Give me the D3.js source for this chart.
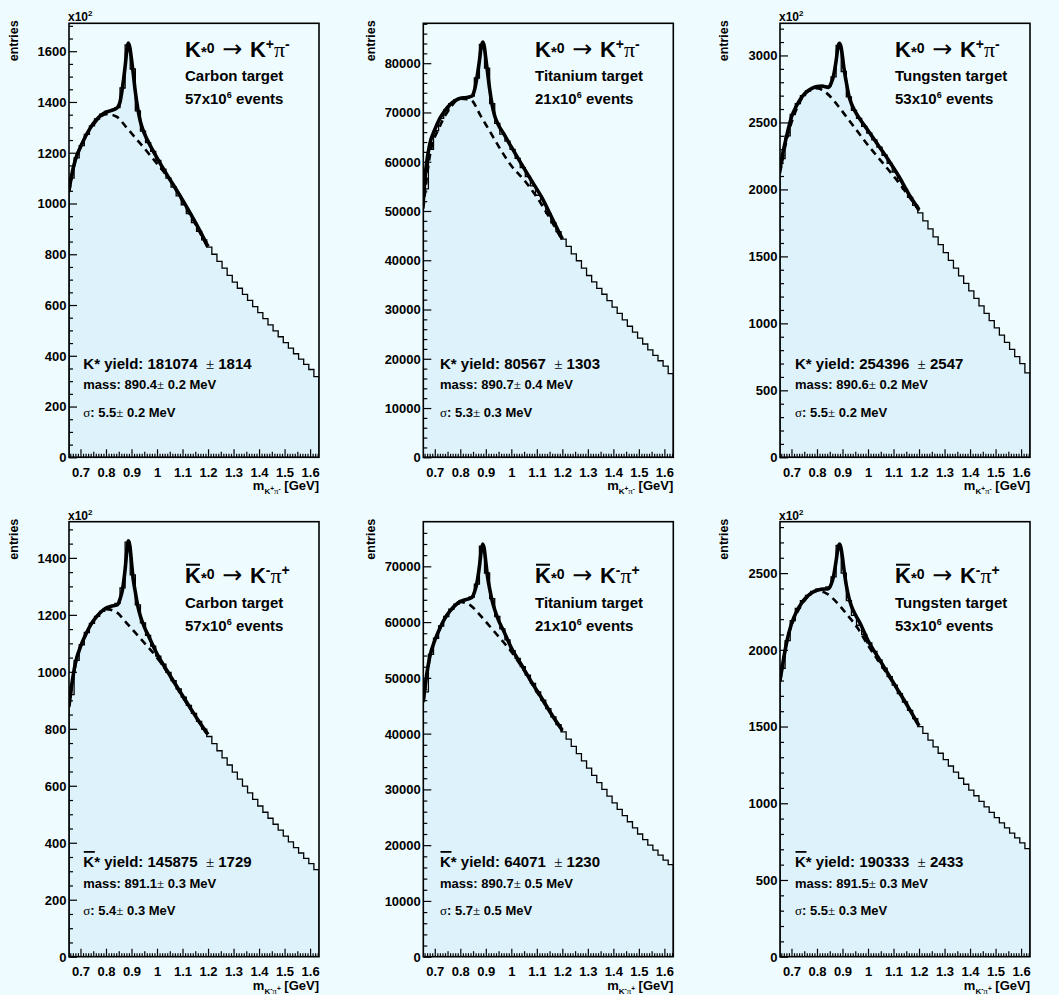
<!DOCTYPE html>
<html><head><meta charset="utf-8">
<script src="https://cdn.jsdelivr.net/npm/d3@7"></script>
<style>
html,body{margin:0;padding:0;background:#effcff;}
svg{display:block;}
text{font-family:"Liberation Sans",Arial,Helvetica,sans-serif;font-weight:bold;fill:#000;white-space:pre;}
.sym{font-family:"Liberation Serif","DejaVu Serif",serif;font-weight:normal;}
.arr{font-family:"DejaVu Sans",sans-serif;font-weight:normal;}
</style></head><body>
<svg id="c" width="1059" height="995"></svg>
<script>
// ---------- DATA ----------
const massBins = [0.665,0.685,0.705,0.725,0.745,0.765,0.785,0.805,0.825,0.845,0.865,0.885,0.905,0.925,0.945,0.965,0.985,1.005,1.025,1.045,1.065,1.085,1.105,1.125,1.145,1.165,1.185,1.205,1.225,1.245,1.265,1.285,1.305,1.325,1.345,1.365,1.385,1.405,1.425,1.445,1.465,1.485,1.505,1.525,1.545,1.565,1.585,1.605,1.625];

const carbonKstarHist   = [1100,1180,1228,1272,1306,1333,1352,1363,1368,1378,1455,1625,1530,1365,1285,1240,1205,1170,1135,1100,1065,1030,995,960,925,890,857,828,800,772,745,717,690,666,642,618,594,570,546,522,498,475,452,430,408,387,366,346,318];
const titaniumKstarHist = [54500,62500,66300,68800,70500,71800,72600,73000,72900,73300,77000,83800,79000,71800,67800,65600,64200,62500,60700,58800,57000,55100,53200,51400,49500,47600,45800,44300,42800,41300,39900,38400,36900,35600,34300,33100,31800,30500,29200,27900,26600,25400,24200,23000,21800,20700,19600,18500,17000];
const tungstenKstarHist = [2230,2400,2560,2640,2700,2735,2755,2768,2765,2770,2840,3075,2880,2690,2590,2530,2470,2420,2370,2315,2255,2195,2130,2065,2000,1940,1880,1825,1765,1705,1646,1587,1528,1470,1412,1355,1298,1242,1186,1130,1075,1020,966,912,858,805,752,700,630];
const carbonAntiHist    = [920,1040,1095,1138,1170,1195,1212,1225,1230,1240,1295,1455,1340,1235,1172,1128,1090,1055,1027,998,969,940,911,882,854,826,799,773,748,723,698,673,648,623,599,575,552,529,507,486,465,444,423,403,383,364,345,327,306];
const titaniumAntiHist  = [47500,54200,57100,59300,61000,62300,63200,63800,64100,64500,66800,73600,68800,64200,61000,58800,56800,54900,53500,52000,50500,49000,47500,46000,44500,43000,41600,40300,39000,37700,36400,35100,33800,32500,31200,30000,28800,27600,26400,25300,24200,23100,22000,21000,20000,19100,18200,17300,16500];
const tungstenAntiHist  = [1880,2060,2190,2270,2320,2355,2380,2395,2400,2410,2475,2680,2500,2320,2225,2160,2100,2045,1990,1935,1880,1825,1770,1715,1660,1605,1552,1500,1455,1411,1368,1326,1284,1243,1203,1163,1124,1086,1049,1012,976,941,906,872,839,806,774,742,705];

const fitMass = [0.655,0.665,0.68,0.70,0.72,0.74,0.76,0.78,0.80,0.82,0.845,0.855,0.865,0.875,0.882,0.888,0.894,0.90,0.906,0.915,0.925,0.935,0.95,0.97,1.00,1.04,1.08,1.12,1.16,1.20];
const carbonKstarFit   = [1050,1110,1172,1222,1265,1300,1327,1347,1360,1366,1378,1400,1460,1540,1605,1632,1612,1568,1520,1440,1372,1322,1277,1235,1180,1112,1048,980,908,830];
const titaniumKstarFit = [52000,58500,63500,66500,68800,70400,71600,72400,72900,73000,73300,74400,77000,80500,83300,84300,83400,81000,78500,74800,71500,69300,67400,65700,63000,59500,56100,52700,48500,44300];
const tungstenKstarFit = [2150,2260,2390,2540,2625,2688,2730,2755,2768,2772,2762,2790,2850,2960,3060,3090,3065,2990,2900,2800,2700,2640,2580,2520,2440,2330,2220,2100,1965,1850];
const carbonAntiFit    = [880,950,1030,1088,1130,1165,1190,1210,1224,1230,1236,1255,1290,1360,1425,1460,1440,1385,1330,1280,1230,1195,1158,1120,1063,1003,945,888,832,780];
const titaniumAntiFit  = [45800,49500,53700,56700,58900,60700,62000,63000,63700,64000,64400,65300,67000,70000,72700,74000,73100,70800,68400,66000,63800,62200,60300,58400,55400,52300,49200,46300,43300,40600];
const tungstenAntiFit  = [1800,1900,2040,2170,2250,2305,2345,2372,2388,2395,2398,2425,2480,2580,2660,2690,2665,2600,2520,2420,2340,2285,2230,2170,2060,1950,1840,1730,1620,1505];

const bgMass = [0.655,0.68,0.72,0.76,0.80,0.84,0.88,0.92,0.96,1.00,1.05,1.10,1.15,1.20];
const carbonKstarBg   = [1045,1170,1262,1322,1352,1343,1300,1253,1206,1157,1093,1008,920,824];
const titaniumKstarBg = [50500,61000,67200,70900,72800,72600,69300,65800,62300,59200,56300,52800,48600,44000];
const tungstenKstarBg = [2120,2360,2600,2725,2755,2715,2630,2530,2430,2330,2215,2100,1975,1840];
const carbonAntiBg    = [875,1025,1128,1190,1220,1210,1172,1132,1092,1050,985,912,845,775];
const titaniumAntiBg  = [45600,53400,58800,62000,63600,63000,61100,59000,56900,54700,51300,47500,44000,40400];
const tungstenAntiBg  = [1790,2040,2235,2340,2385,2365,2305,2225,2140,2030,1905,1780,1650,1500];

const xTickValues = [0.7,0.8,0.9,1.0,1.1,1.2,1.3,1.4,1.5,1.6];
const xTickLabels = ["0.7","0.8","0.9","1","1.1","1.2","1.3","1.4","1.5","1.6"];
const yTicksCarbonKstar   = [0,200,400,600,800,1000,1200,1400,1600];
const yTicksTitaniumKstar = [0,10000,20000,30000,40000,50000,60000,70000,80000];
const yTicksTungstenKstar = [0,500,1000,1500,2000,2500,3000];
const yTicksCarbonAnti    = [0,200,400,600,800,1000,1200,1400];
const yTicksTitaniumAnti  = [0,10000,20000,30000,40000,50000,60000,70000];
const yTicksTungstenAnti  = [0,500,1000,1500,2000,2500];

const targets = ["Carbon target","Titanium target","Tungsten target"];
const eventsMillions = ["57","21","53"];
const yieldValues = ["181074","80567","254396","145875","64071","190333"];
const yieldErrors = ["1814","1303","2547","1729","1230","2433"];
const massValues  = ["890.4","890.7","890.6","891.1","890.7","891.5"];
const massErrors  = ["0.2","0.4","0.2","0.3","0.5","0.3"];
const sigmaValues = ["5.5","5.3","5.5","5.4","5.7","5.5"];
const sigmaErrors = ["0.2","0.3","0.2","0.3","0.5","0.3"];

// ---------- LAYOUT ----------
const colX0 = [69, 423.3, 780];
const rowY0 = [23.3, 521.7];
const rowH = [434, 435];
const W = 250;
const xDomain = [0.655, 1.635];
const entriesX = [17.8, 374.5, 727.8];
const titleDX = [116, 111.7, 115];
const blockDX = [14.3, 16.7, 15];
const titleY = [[34, 58.2, 80.7], [61.5, 86.5, 109.5]];
const blockY = [345.7, 366, 393.4];
const FILL = "#ddf2fa";

const panels = [
  {hist: carbonKstarHist,   fit: carbonKstarFit,   bg: carbonKstarBg,   ymax: 1710,  ticks: yTicksCarbonKstar,   minor: 50,   mult: true},
  {hist: titaniumKstarHist, fit: titaniumKstarFit, bg: titaniumKstarBg, ymax: 88100, ticks: yTicksTitaniumKstar, minor: 2000, mult: false},
  {hist: tungstenKstarHist, fit: tungstenKstarFit, bg: tungstenKstarBg, ymax: 3240,  ticks: yTicksTungstenKstar, minor: 100,  mult: true},
  {hist: carbonAntiHist,    fit: carbonAntiFit,    bg: carbonAntiBg,    ymax: 1527,  ticks: yTicksCarbonAnti,    minor: 50,   mult: true},
  {hist: titaniumAntiHist,  fit: titaniumAntiFit,  bg: titaniumAntiBg,  ymax: 78000, ticks: yTicksTitaniumAnti,  minor: 2000, mult: false},
  {hist: tungstenAntiHist,  fit: tungstenAntiFit,  bg: tungstenAntiBg,  ymax: 2835,  ticks: yTicksTungstenAnti,  minor: 100,  mult: true}
];

const svg = d3.select("#c");
svg.append("rect").attr("width",1059).attr("height",995).attr("fill","#effcff");

function styleAxis(sel){
  sel.select(".domain").remove();
  sel.selectAll("line").attr("stroke","#000").attr("stroke-width",1.2);
}

panels.forEach((p, i) => {
  const col = i % 3, row = Math.floor(i / 3);
  const anti = row === 1;
  const X0 = colX0[col], Y0 = rowY0[row], H = rowH[row];
  const g = svg.append("g").attr("transform", `translate(${X0},${Y0})`);
  const x = d3.scaleLinear().domain(xDomain).range([0, W]);
  const y = d3.scaleLinear().domain([0, p.ymax]).range([H, 0]);

  const clipId = "clip" + i;
  g.append("clipPath").attr("id", clipId).append("rect").attr("width", W).attr("height", H);
  const plot = g.append("g").attr("clip-path", `url(#${clipId})`);

  // histogram (step)
  const half = (massBins[1] - massBins[0]) / 2;
  let d = `M${x(massBins[0]-half)},${y(0)}`;
  p.hist.forEach((v, k) => {
    d += `L${x(massBins[k]-half)},${y(v)}L${x(massBins[k]+half)},${y(v)}`;
  });
  d += `L${x(massBins[massBins.length-1]+half)},${y(0)}Z`;
  plot.append("path").attr("d", d).attr("fill", FILL).attr("stroke", "#000").attr("stroke-width", 1.3);

  const line = d3.line().curve(d3.curveMonotoneX);
  plot.append("path")
    .attr("d", line(bgMass.map((m, k) => [x(m), y(p.bg[k])])))
    .attr("fill", "none").attr("stroke", "#000").attr("stroke-width", 2.6)
    .attr("stroke-dasharray", "7,5");
  plot.append("path")
    .attr("d", line(fitMass.map((m, k) => [x(m), y(p.fit[k])])))
    .attr("fill", "none").attr("stroke", "#000").attr("stroke-width", 3.6)
    .attr("stroke-linejoin", "round");

  // Y axis
  const yMinor = d3.range(0, p.ymax, p.minor).filter(v => !p.ticks.includes(v));
  g.append("g").call(d3.axisLeft(y).tickValues(yMinor).tickSize(-4).tickFormat("")).call(styleAxis);
  const ya = g.append("g").call(d3.axisLeft(y).tickValues(p.ticks).tickSize(-8).tickPadding(2.5).tickFormat(d3.format("d"))).call(styleAxis);
  ya.selectAll("text").style("font-size", "13px").style("font-family", null).attr("dy", "0.34em");

  // X axis
  const xMinor = d3.range(66, 164).map(k => k / 100).filter(v => Math.round(v * 100) % 5 !== 0);
  const xMid = d3.range(75, 160, 10).map(k => k / 100);
  const gx = g.append("g").attr("transform", `translate(0,${H})`);
  gx.append("g").call(d3.axisBottom(x).tickValues(xMinor).tickSize(-3.5).tickFormat("")).call(styleAxis);
  gx.append("g").call(d3.axisBottom(x).tickValues(xMid).tickSize(-5.5).tickFormat("")).call(styleAxis);
  const xa = gx.append("g").call(d3.axisBottom(x).tickValues(xTickValues).tickSize(-8).tickFormat((dd, k) => xTickLabels[k])).call(styleAxis);
  xa.selectAll("text").style("font-size", "13px").style("font-family", null).attr("y", 19.5).attr("dy", null);

  // frame
  g.append("rect").attr("width", W).attr("height", H).attr("fill", "none").attr("stroke", "#000").attr("stroke-width", 1.6);

  // axis titles
  svg.append("text").attr("transform", `translate(${entriesX[col]},${Y0 - 3}) rotate(-90)`)
    .attr("text-anchor", "end").style("font-size", "12.5px").text("entries");
  const xt = g.append("text").attr("x", W).attr("y", H + 33).attr("text-anchor", "end").style("font-size", "13px");
  xt.append("tspan").text("m");
  xt.append("tspan").attr("dy", 4).style("font-size", "8px").text("K");
  xt.append("tspan").attr("dy", -3).style("font-size", "6.5px").text(anti ? "-" : "+");
  xt.append("tspan").attr("dy", 3).attr("class", "sym").style("font-size", "9px").text("π");
  xt.append("tspan").attr("dy", -3).style("font-size", "6.5px").text(anti ? "+" : "-");
  xt.append("tspan").attr("dy", -1).text(" [GeV]");

  if (p.mult) {
    const m = g.append("text").attr("x", -1).attr("y", -2).style("font-size", "12px");
    m.append("tspan").text("x10");
    m.append("tspan").attr("dy", -5).style("font-size", "8px").text("2");
  }

  // title
  const tx = titleDX[col], ty = titleY[row];
  const t = g.append("text").attr("x", tx).attr("y", ty[0]).style("font-size", "22px");
  t.append("tspan").text("K");
  t.append("tspan").style("font-size", "15px").text("*");
  t.append("tspan").attr("dy", -4).style("font-size", "14px").text("0");
  t.append("tspan").attr("dy", 4).attr("class", "arr").style("font-size", "24px").text(" → ");
  t.append("tspan").text("K");
  t.append("tspan").attr("dy", -8).style("font-size", "14px").text(anti ? "-" : "+");
  t.append("tspan").attr("dy", 8).attr("class", "sym").text("π");
  t.append("tspan").attr("dy", -8).style("font-size", "14px").text(anti ? "+" : "-");
  if (anti) {
    g.append("line").attr("x1", tx + 1).attr("x2", tx + 15).attr("y1", ty[0] - 18.5).attr("y2", ty[0] - 18.5)
      .attr("stroke", "#000").attr("stroke-width", 2);
  }
  g.append("text").attr("x", tx).attr("y", ty[1]).style("font-size", "15px").text(targets[col]);
  const ev = g.append("text").attr("x", tx).attr("y", ty[2]).style("font-size", "15px");
  ev.append("tspan").text(eventsMillions[col] + "x10");
  ev.append("tspan").attr("dy", -6).style("font-size", "9px").text("6");
  ev.append("tspan").attr("dy", 6).text(" events");

  // result block
  const bx = blockDX[col];
  const yl = g.append("text").attr("x", bx).attr("y", blockY[0]).style("font-size", "15px");
  yl.append("tspan").text("K* yield: " + yieldValues[i] + "  ");
  yl.append("tspan").attr("class", "sym").text("±");
  yl.append("tspan").text(" " + yieldErrors[i]);
  if (anti) {
    g.append("line").attr("x1", bx + 0.5).attr("x2", bx + 11.5).attr("y1", blockY[0] - 15.5).attr("y2", blockY[0] - 15.5)
      .attr("stroke", "#000").attr("stroke-width", 1.8);
  }
  const ml = g.append("text").attr("x", bx).attr("y", blockY[1]).style("font-size", "13px");
  ml.append("tspan").text("mass: " + massValues[i]);
  ml.append("tspan").attr("class", "sym").text("±");
  ml.append("tspan").text(" " + massErrors[i] + " MeV");
  const sl = g.append("text").attr("x", bx).attr("y", blockY[2]).style("font-size", "13px");
  sl.append("tspan").attr("class", "sym").text("σ");
  sl.append("tspan").text(": " + sigmaValues[i]);
  sl.append("tspan").attr("class", "sym").text("±");
  sl.append("tspan").text(" " + sigmaErrors[i] + " MeV");
});
</script>
</body></html>
